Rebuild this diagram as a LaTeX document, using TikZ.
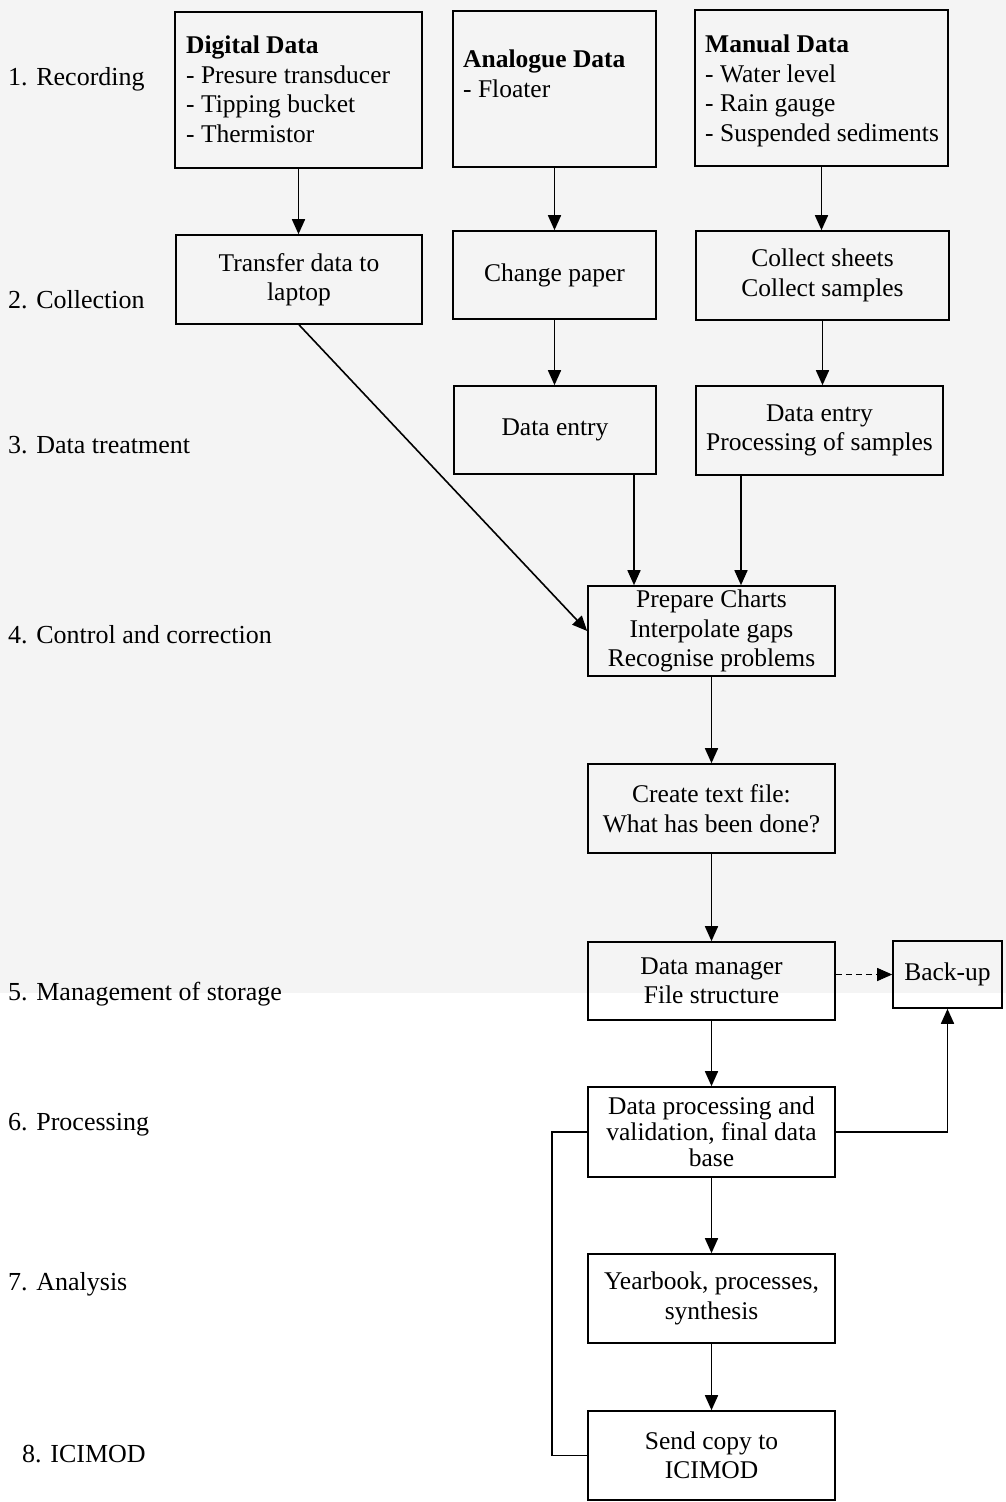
\documentclass[tikz,border=0pt]{standalone}
\usepackage{fontspec}
\setmainfont{Liberation Serif}
\usetikzlibrary{arrows.meta,calc}
\begin{document}
\begin{tikzpicture}[x=1pt,y=-1pt,
  box/.style={draw, line width=1.6pt, inner sep=0pt, align=center,
    font=\fontsize{25.5}{29.5}\selectfont},
  boxtext/.style={anchor=north west, inner sep=0pt, align=left,
    font=\fontsize{25.5}{29.5}\selectfont},
  lbl/.style={anchor=base west, inner sep=0pt, font=\fontsize{26}{30}\selectfont},
  arr/.style={line width=1.6pt, -{Triangle[length=15pt,width=13pt]}},
  dasharr/.style={line width=0.9pt, dash pattern=on 6pt off 4pt, -{Triangle[length=15pt,width=13pt]}},
  plain/.style={line width=1.6pt}
  ]
\useasboundingbox (0,0) rectangle (1006,1502);
\fill[white] (0,0) rectangle (1006,1502);
\fill[gray!9] (0,0) rectangle (1006,993);

% stage labels
\node[lbl] (l1) at (8,85) {1. Recording};
\node[lbl] (l2) at (8,308) {2. Collection};
\node[lbl] (l3) at (8,453) {3. Data treatment};
\node[lbl] (l4) at (8,643) {4. Control and correction};
\node[lbl] (l5) at (8,1000) {5. Management of storage};
\node[lbl] (l6) at (8,1130) {6. Processing};
\node[lbl] (l7) at (8,1290) {7. Analysis};
\node[lbl] (l8) at (22,1462) {8. ICIMOD};

% top boxes
\node[box, minimum width=247pt, minimum height=156pt] (dig) at (298.5,90) {};
\node[boxtext] (digt) at (186,36) {\textbf{Digital Data}\\- Presure transducer\\- Tipping bucket\\- Thermistor};
\node[box, minimum width=203pt, minimum height=156pt] (ana) at (554.5,89) {};
\node[boxtext] (anat) at (463,50) {\textbf{Analogue Data}\\- Floater};
\node[box, minimum width=253pt, minimum height=156pt] (man) at (821.5,88) {};
\node[boxtext] (mant) at (705,35) {\textbf{Manual Data}\\- Water level\\- Rain gauge\\- Suspended sediments};

% collection
\node[box, minimum width=246pt, minimum height=89pt] (tra) at (299,279.5) {Transfer data to\\laptop};
\node[box, minimum width=203pt, minimum height=88pt] (chg) at (554.5,275) {Change paper};
\node[box, minimum width=253pt, minimum height=89pt] (col) at (822.5,275.5) {Collect sheets\\Collect samples};

% data treatment
\node[box, minimum width=202pt, minimum height=88pt] (de1) at (555,430) {Data entry};
\node[box, minimum width=247pt, minimum height=89pt] (de2) at (819.5,430.5) {Data entry\\Processing of samples};

% control
\node[box, minimum width=247pt, minimum height=90pt] (pre) at (711.5,631) {Prepare Charts\\Interpolate gaps\\Recognise problems};
\node[box, minimum width=247pt, minimum height=89pt] (cre) at (711.5,808.5) {Create text file:\\What has been done?};

% storage
\node[box, minimum width=247pt, minimum height=78pt] (dm) at (711.5,981) {Data manager\\File structure};
\node[box, minimum width=109pt, minimum height=67pt] (bak) at (947.5,974.5) {Back-up};

% processing, analysis, ICIMOD
\node[box, minimum width=247pt, minimum height=90pt, fill=white,
  font=\fontsize{25.5}{26}\selectfont] (dp) at (711.5,1132) {Data processing and\\validation, final data\\base};
\node[box, minimum width=247pt, minimum height=89pt] (yb) at (711.5,1298.5) {Yearbook, processes,\\synthesis};
\node[box, minimum width=247pt, minimum height=89pt] (snd) at (711.5,1455.5) {Send copy to\\ICIMOD};

% connectors
\draw[arr] (dig.south) -- (dig.south |- tra.north);
\draw[arr] (ana.south) -- (ana.south |- chg.north);
\draw[arr] (man.south) -- (man.south |- col.north);
\draw[arr] (chg.south) -- (chg.south |- de1.north);
\draw[arr] (col.south) -- (col.south |- de2.north);
\draw[arr] (tra.south) -- (pre.west);
\coordinate (p1) at (634,0);
\coordinate (p2) at (741,0);
\draw[arr] (de1.south -| p1) -- (pre.north -| p1);
\draw[arr] (de2.south -| p2) -- (pre.north -| p2);
\draw[arr] (pre.south) -- (cre.north);
\draw[arr] (cre.south) -- (dm.north);
\draw[dasharr] (bak.west -| dm.east) -- (bak.west);
\draw[arr] (dm.south) -- (dp.north);
\draw[arr] (dp.east) -| (bak.south);
\draw[arr] (dp.south) -- (yb.north);
\draw[arr] (yb.south) -- (snd.north);
\draw[plain] (dp.west) -- ++(-35,0) |- (snd.west);
\end{tikzpicture}
\end{document}
